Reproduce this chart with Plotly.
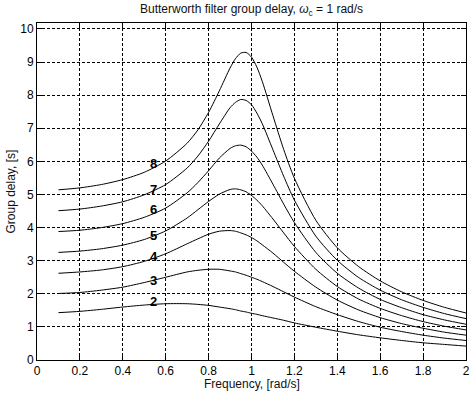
import plotly.graph_objects as go

# ---- data ----
freq = [0.1, 0.2, 0.3, 0.4, 0.5, 0.6, 0.7, 0.75, 0.8, 0.85, 0.9, 0.925, 0.95, 0.975,
        1.0, 1.025, 1.05, 1.1, 1.15, 1.2, 1.3, 1.4, 1.5, 1.6, 1.7, 1.8, 1.9, 2.0]

delay_n2 = [1.43, 1.47, 1.53, 1.60, 1.66, 1.70, 1.70, 1.68, 1.65, 1.60, 1.55, 1.52, 1.48, 1.45,
            1.41, 1.38, 1.34, 1.27, 1.20, 1.12, 0.99, 0.87, 0.76, 0.67, 0.59, 0.52, 0.47, 0.42]
delay_n3 = [2.01, 2.04, 2.11, 2.20, 2.34, 2.50, 2.66, 2.71, 2.74, 2.74, 2.69, 2.66, 2.61, 2.56,
            2.50, 2.44, 2.37, 2.22, 2.06, 1.90, 1.61, 1.37, 1.16, 0.99, 0.86, 0.75, 0.66, 0.59]
delay_n4 = [2.62, 2.66, 2.72, 2.82, 2.98, 3.21, 3.51, 3.66, 3.80, 3.89, 3.91, 3.89, 3.84, 3.78,
            3.70, 3.60, 3.48, 3.23, 2.95, 2.68, 2.20, 1.81, 1.51, 1.28, 1.10, 0.96, 0.84, 0.75]
delay_n5 = [3.25, 3.29, 3.36, 3.47, 3.64, 3.90, 4.29, 4.54, 4.79, 5.01, 5.15, 5.17, 5.14, 5.08,
            4.97, 4.83, 4.66, 4.26, 3.84, 3.43, 2.74, 2.22, 1.84, 1.56, 1.34, 1.16, 1.02, 0.91]
delay_n6 = [3.88, 3.92, 4.00, 4.12, 4.31, 4.59, 5.05, 5.36, 5.72, 6.10, 6.39, 6.47, 6.49, 6.44,
            6.31, 6.13, 5.89, 5.31, 4.71, 4.15, 3.25, 2.62, 2.17, 1.83, 1.58, 1.37, 1.21, 1.08]
delay_n7 = [4.51, 4.56, 4.65, 4.78, 4.99, 5.30, 5.80, 6.16, 6.61, 7.13, 7.62, 7.78, 7.87, 7.84,
            7.71, 7.46, 7.14, 6.35, 5.55, 4.83, 3.74, 3.01, 2.49, 2.11, 1.82, 1.59, 1.40, 1.25]
delay_n8 = [5.14, 5.20, 5.30, 5.45, 5.67, 6.01, 6.55, 6.95, 7.48, 8.13, 8.82, 9.10, 9.27, 9.29,
            9.15, 8.85, 8.42, 7.38, 6.36, 5.49, 4.22, 3.39, 2.82, 2.39, 2.06, 1.80, 1.59, 1.42]

order_labels = ["2", "3", "4", "5", "6", "7", "8"]
series = [delay_n2, delay_n3, delay_n4, delay_n5, delay_n6, delay_n7, delay_n8]

x_ticks = [0, 0.2, 0.4, 0.6, 0.8, 1, 1.2, 1.4, 1.6, 1.8, 2]
x_ticktext = ["0", "0.2", "0.4", "0.6", "0.8", "1", "1.2", "1.4", "1.6", "1.8", "2"]
y_ticks = [0, 1, 2, 3, 4, 5, 6, 7, 8, 9, 10]

# label placement (annotation positions, not data)
label_x = 0.545
label_y = [1.77, 2.40, 3.13, 3.76, 4.54, 5.14, 5.93]

FONT = "Liberation Sans, Arial, sans-serif"

fig = go.Figure()
for vals in series:
    fig.add_trace(go.Scatter(
        x=freq, y=vals, mode="lines",
        line=dict(color="black", width=1, shape="spline", smoothing=0.7),
        showlegend=False, hoverinfo="skip"))

for txt, ly in zip(order_labels, label_y):
    fig.add_annotation(x=label_x, y=ly, xref="x", yref="y", text="<b>%s</b>" % txt,
                       showarrow=False, xanchor="center", yanchor="middle",
                       font=dict(family=FONT, size=13, color="black"))

axis_common = dict(
    showgrid=True, gridcolor="black", gridwidth=1, griddash="3px,2px",
    showline=True, linecolor="black", linewidth=1, mirror="allticks",
    ticks="inside", ticklen=5, tickcolor="black", tickwidth=1,
    zeroline=False, tickfont=dict(family=FONT, size=12, color="black"),
)

fig.update_layout(
    width=470, height=396,
    margin=dict(l=37, r=4, t=23, b=36, autoexpand=False),
    paper_bgcolor="white", plot_bgcolor="white",
    xaxis=dict(range=[0, 2], tickvals=x_ticks, ticktext=x_ticktext, **axis_common),
    yaxis=dict(range=[0, 10.18], tickvals=y_ticks, **axis_common),
    font=dict(family=FONT, size=12, color="black"),
)

# title
fig.add_annotation(xref="paper", yref="paper", x=0.5, y=1, yanchor="bottom", yshift=3,
                   text="Butterworth filter group delay, <i>ω</i><sub>c</sub> = 1 rad/s",
                   showarrow=False, font=dict(family=FONT, size=12, color="#111"))
# axis titles
fig.add_annotation(xref="paper", yref="paper", x=0.5, y=0, yanchor="top", yshift=-15,
                   text="Frequency, [rad/s]", showarrow=False,
                   font=dict(family=FONT, size=12, color="#111"))
fig.add_annotation(xref="paper", yref="paper", x=0, y=0.5, xanchor="center", xshift=-27,
                   text="Group delay, [s]", textangle=-90, showarrow=False,
                   font=dict(family=FONT, size=12, color="#111"))

fig.write_html("out.html", config={"displayModeBar": False},
               post_script="document.body.style.margin='0';")
